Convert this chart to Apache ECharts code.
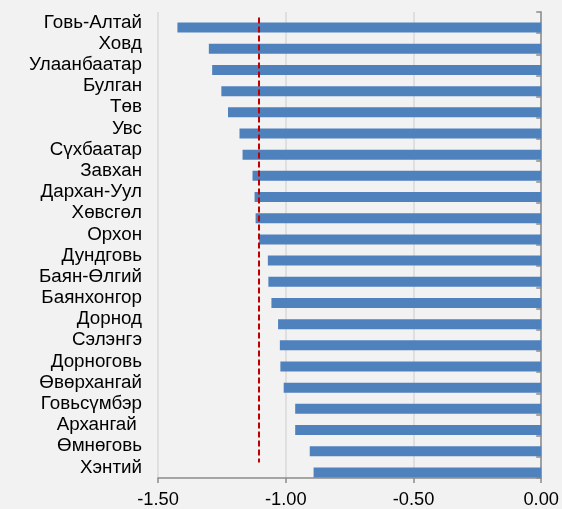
<!DOCTYPE html>
<html>
<head>
<meta charset="utf-8">
<script src="https://cdn.jsdelivr.net/npm/echarts@6/dist/echarts.min.js"></script>
<style>
html,body{margin:0;padding:0;background:#f2f2f2;}
#chart{width:562px;height:509px;}
</style>
</head>
<body>
<div id="chart"></div>
<script>
const categories = ["Говь-Алтай","Ховд","Улаанбаатар","Булган","Төв","Увс","Сүхбаатар","Завхан","Дархан-Уул","Хөвсгөл","Орхон","Дундговь","Баян-Өлгий","Баянхонгор","Дорнод","Сэлэнгэ","Дорноговь","Өвөрхангай","Говьсүмбэр","Архангай ","Өмнөговь","Хэнтий"];
const values = [-1.424,-1.301,-1.288,-1.252,-1.226,-1.181,-1.169,-1.130,-1.122,-1.118,-1.104,-1.070,-1.068,-1.056,-1.030,-1.023,-1.021,-1.008,-0.963,-0.963,-0.906,-0.891];
const referenceValue = -1.105;
const xTicks = [-1.5, -1.0, -0.5, 0.0];

const chart = echarts.init(document.getElementById('chart'), null, {renderer:'canvas'});
const font = '"Liberation Sans", Arial, sans-serif';
chart.setOption({
  backgroundColor: '#f2f2f2',
  animation: false,
  grid: {left: 158, right: 20, top: 12, bottom: 31, containLabel: false},
  xAxis: {
    type: 'value', min: xTicks[0], max: xTicks[xTicks.length-1], interval: 0.5,
    axisLine: {show: true, lineStyle: {color: '#8c8c8c', width: 1.5}},
    axisTick: {show: true, length: 5, lineStyle: {color: '#8c8c8c', width: 1.5}},
    axisLabel: {color: '#000', fontFamily: font, fontSize: 18.3, margin: 13, formatter: v => v.toFixed(2)},
    splitLine: {show: true, lineStyle: {color: '#d9d9d9', width: 1.5}}
  },
  yAxis: [{
    type: 'category', data: categories, inverse: true, position: 'left',
    axisLine: {show: false}, axisTick: {show: false},
    axisLabel: {color: '#000', fontFamily: font, fontSize: 18.8, margin: 16, interval: 0, padding: [4, 0, 0, 0]},
    splitLine: {show: false}
  },{
    type: 'category', data: categories, inverse: true, position: 'right',
    axisLine: {show: true, lineStyle: {color: '#8c8c8c', width: 1.5}},
    axisTick: {show: true, inside: true, length: 5, lineStyle: {color: '#8c8c8c', width: 1.5}},
    axisLabel: {show: false}
  }],
  series: [{
    type: 'bar', yAxisIndex: 0, data: categories.map(() => '-'),
    barWidth: 10, barGap: '0%', silent: true,
    markLine: {
      symbol: 'none', silent: true, label: {show: false}, z: 10,
      lineStyle: {color: '#c00000', type: [6, 3], width: 2},
      data: [[{coord: [referenceValue, categories[0]]}, {coord: [referenceValue, categories[categories.length-1]]}]]
    }
  },{
    type: 'bar', yAxisIndex: 0, data: values,
    barWidth: 10, barGap: '0%',
    itemStyle: {color: '#4f81bd'}
  }]
});
</script>
</body>
</html>
